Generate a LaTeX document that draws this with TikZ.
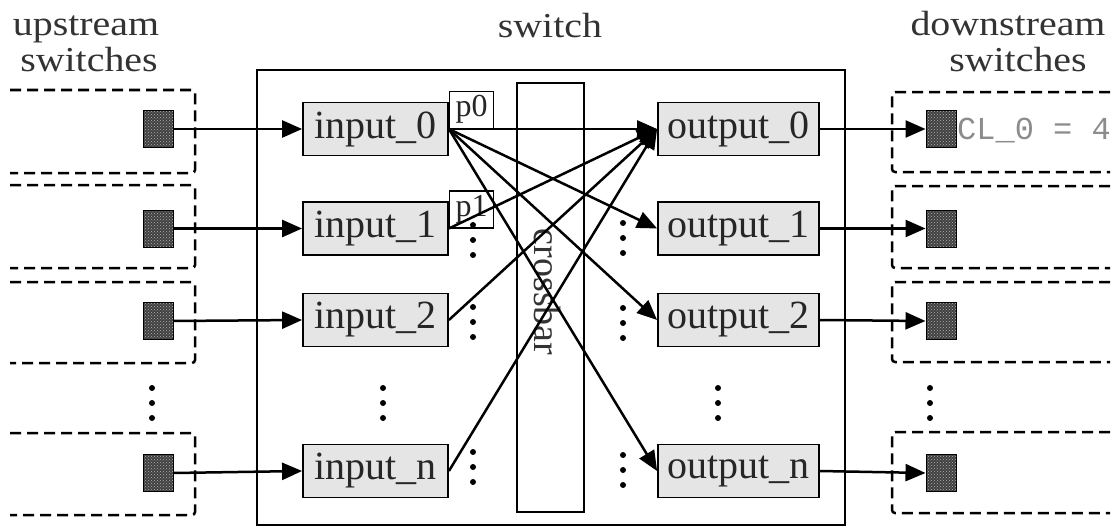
\documentclass[tikz,border=0pt]{standalone}
\usepackage{fontspec}
\setmainfont{Liberation Serif}
\newfontfamily\codefont{Liberation Mono}
\usetikzlibrary{arrows.meta,patterns}

% small column of three dots
\newcommand\vdotcol[2]{%
  \foreach \k in {-15,0,15} {\fill (#1,#2) ++(0,\k) circle[radius=3pt];}}
% headings are set a little wide
\newcommand\widetext[1]{\scalebox{1.14}[1]{#1}}

\begin{document}
\begin{tikzpicture}[x=1pt,y=-1pt,
  frame/.style={draw, line width=2.2pt},
  unit/.style={draw, line width=1.8pt, fill=black!10, minimum height=53pt,
    inner sep=0pt, font=\fontsize{40}{42}\selectfont, text=black!85},
  inbox/.style={unit, minimum width=145pt},
  outbox/.style={unit, minimum width=161pt},
  portbox/.style={draw, line width=1.5pt, minimum width=44pt, minimum height=37pt,
    inner sep=0pt, font=\fontsize{32}{34}\selectfont, text=black!85},
  buffer/.style={draw=black, line width=1pt, minimum width=30pt, minimum height=37pt,
    inner sep=0pt, preaction={fill=black!75}, pattern=crosshatch dots,
    pattern color=black!30},
  neighbour/.style={line width=2.5pt, dash pattern=on 11pt off 6pt, rounded corners=3pt},
  link/.style={line width=2.5pt, -{Triangle[length=20pt,width=17pt]}},
  heading/.style={font=\fontsize{35}{37}\selectfont, text=black!80, inner sep=0pt},
]
\useasboundingbox (0,0) rectangle (1114,527);

% headings
\node[heading, anchor=base] (uphead1) at (86,36) {\widetext{upstream}};
\node[heading, anchor=base] (uphead2) at (89,72) {\widetext{switches}};
\node[heading, anchor=base] (swhead) at (550,38) {\widetext{switch}};
\node[heading, anchor=base] (dnhead1) at (1008,36) {\widetext{downstream}};
\node[heading, anchor=base] (dnhead2) at (1018,72) {\widetext{switches}};

% neighbouring switches (left: upstream, right: downstream)
\draw[neighbour] (10,90) -- (195,90) -- (195,173) -- (10,173);
\draw[neighbour] (10,185) -- (195,185) -- (195,268) -- (10,268);
\draw[neighbour] (10,282) -- (195,282) -- (195,363) -- (10,363);
\draw[neighbour] (10,433) -- (195,433) -- (195,515) -- (10,515);
\draw[neighbour] (1110,92) -- (892,92) -- (892,172) -- (1110,172);
\draw[neighbour] (1110,186) -- (892,186) -- (892,268) -- (1110,268);
\draw[neighbour] (1110,282) -- (892,282) -- (892,362) -- (1110,362);
\draw[neighbour] (1110,432) -- (892,432) -- (892,513) -- (1110,513);

% the switch and its crossbar
\draw[frame] (257,70) rectangle (845,525);
\node[draw, line width=1.8pt, minimum width=67pt, minimum height=429pt,
  inner sep=0pt] (xbar) at (550.5,297.5) {};
\node[rotate=-90, font=\fontsize{38}{40}\selectfont, text=black!80,
  inner sep=0pt] (xbarlabel) at (547,292) {crossbar};

% input and output ports
\node[inbox] (in0) at (375.5,129) {input\_0};
\node[inbox] (in1) at (375.5,228.5) {input\_1};
\node[inbox] (in2) at (375.5,320) {input\_2};
\node[inbox] (inn) at (375.5,471) {input\_n};
\node[outbox] (out0) at (738.5,129) {output\_0};
\node[outbox] (out1) at (738.5,228.5) {output\_1};
\node[outbox] (out2) at (738.5,320) {output\_2};
\node[outbox] (outn) at (738.5,471) {output\_n};

\node[portbox, anchor=south west] (p0) at (in0.east) {p0};
\node[portbox, anchor=south west] (p1) at (in1.east) {p1};

% buffers of the neighbouring switches
\node[buffer] (upb0) at (158,129) {};
\node[buffer] (upb1) at (158,228.5) {};
\node[buffer] (upb2) at (158,321) {};
\node[buffer] (upbn) at (158,473) {};
\node[buffer] (dnb0) at (941,129) {};
\node[buffer] (dnb1) at (941,228.5) {};
\node[buffer] (dnb2) at (941,321) {};
\node[buffer] (dnbn) at (941,473) {};
\node[anchor=west, font=\codefont\fontsize{32}{34}\selectfont, text=black!45,
  inner sep=0pt] (cl0) at (957,131) {CL\_0 = 4};

% elided rows
\vdotcol{152}{403}
\vdotcol{383}{403}
\vdotcol{718}{403}
\vdotcol{930}{403}
\vdotcol{473}{240}
\vdotcol{473}{322}
\vdotcol{473}{467}
\vdotcol{623}{238}
\vdotcol{623}{323}
\vdotcol{623}{470}

% links into and out of the switch
\draw[link] (upb0.east) -- (in0.west);
\draw[link] (upb1.east) -- (in1.west);
\draw[link] (upb2.east) -- (in2.west);
\draw[link] (upbn.east) -- (inn.west);
\draw[link] (out0.east) -- (dnb0.west);
\draw[link] (out1.east) -- (dnb1.west);
\draw[link] (out2.east) -- (dnb2.west);
\draw[link] (outn.east) -- (dnbn.west);

% crossbar requests: input_0 to every output, every input to output_0
\draw[link] (in0.east) -- (out0.west);
\draw[link] (in0.east) -- (out1.west);
\draw[link] (in0.east) -- (out2.west);
\draw[link] (in0.east) -- (outn.west);
\draw[link] (in1.east) -- (out0.west);
\draw[link] (in2.east) -- (out0.west);
\draw[link] (inn.east) -- (out0.west);
\end{tikzpicture}
\end{document}
